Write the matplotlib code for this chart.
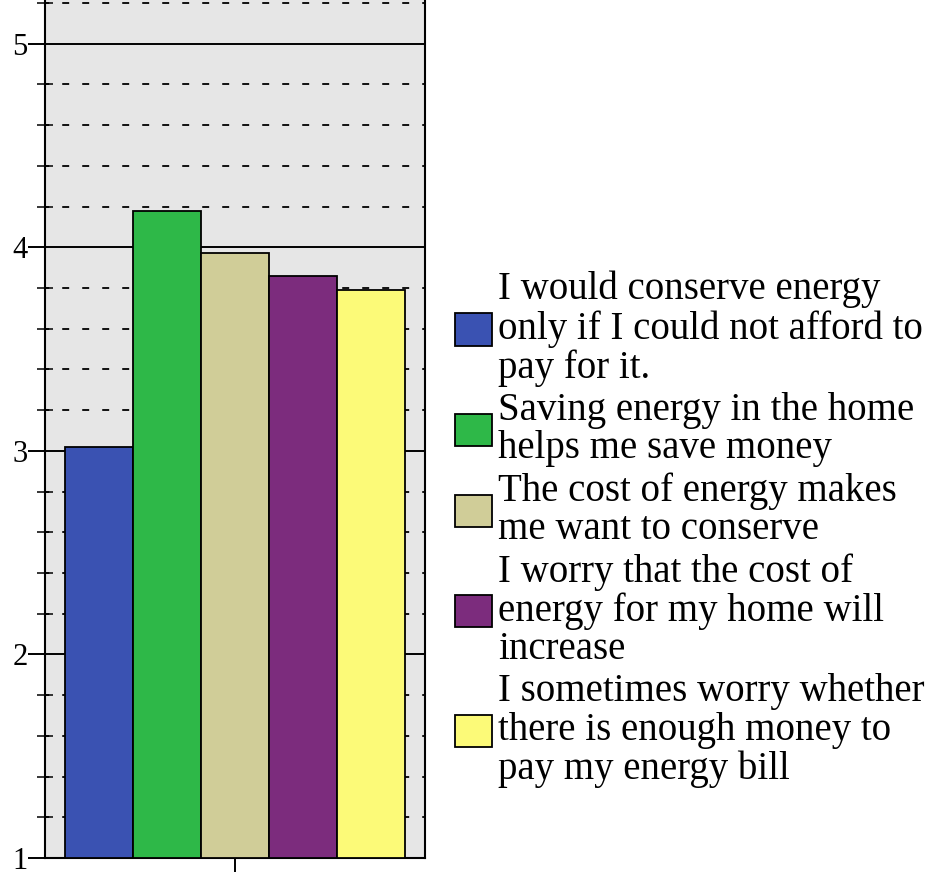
import matplotlib.pyplot as plt
from matplotlib.patches import Patch
from matplotlib.ticker import MultipleLocator

plt.switch_backend('agg')
plt.rcParams['font.family'] = ['Liberation Serif', 'DejaVu Serif']
plt.rcParams['lines.scale_dashes'] = False

# survey items (legend order) and mean scores
labels = [
    'I would conserve energy\nonly if I could not afford to\npay for it.',
    'Saving energy in the home\nhelps me save money',
    'The cost of energy makes\nme want to conserve',
    'I worry that the cost of\nenergy for my home will\nincrease',
    'I sometimes worry whether\nthere is enough money to\npay my energy bill',
]
means = [3.02, 4.18, 3.97, 3.86, 3.79]
colors = ['#3A52B2', '#2EB848', '#D0CD98', '#7C2C7D', '#FCFA78']
y_ticks = [1, 2, 3, 4, 5]

fig = plt.figure(figsize=(9.41, 8.72), dpi=100)
ax = fig.add_axes([45 / 941, 1 - 858 / 872, 380 / 941, 858 / 872])
ax.set_facecolor('#e6e6e6')

pos = list(range(len(means)))
ax.bar(pos, [m - 1 for m in means], bottom=1, width=1.0, color=colors,
       edgecolor='black', linewidth=1.3, zorder=3)

ax.set_xlim(-0.5 - 0.294, len(means) - 0.5 + 0.294)
ax.set_ylim(1, 5.215)

# grid: solid at integers, dashed at 0.2 steps
ax.yaxis.set_major_locator(MultipleLocator(1))
ax.yaxis.set_minor_locator(MultipleLocator(0.2))
ax.set_yticks(y_ticks)
ax.set_yticklabels([str(t) for t in y_ticks], fontsize=22)
ax.grid(axis='y', which='major', color='black', linewidth=1.4, zorder=1)
ax.grid(axis='y', which='minor', color='black', linewidth=1.3,
        linestyle=(2, (5, 9.4)), zorder=1)
ax.set_axisbelow(True)

ax.tick_params(axis='y', which='major', direction='out', length=12.5,
               width=1.4, pad=0, right=False)
ax.tick_params(axis='y', which='minor', direction='inout', length=11.5,
               width=1.1, right=False)
ax.set_xticks([2])
ax.set_xticklabels([''])
ax.tick_params(axis='x', direction='out', length=10, width=1.4)

ax.spines['top'].set_visible(False)
for s in ['left', 'right', 'bottom']:
    ax.spines[s].set_linewidth(1.5)

handles = [Patch(facecolor=c, edgecolor='black', linewidth=1.3) for c in colors]
leg = fig.legend(handles, labels, loc='upper left',
                 bbox_to_anchor=(455 / 941, 1 - 271 / 872),
                 frameon=False, fontsize=28, borderpad=0, borderaxespad=0,
                 handlelength=0.95, handleheight=0.9, handletextpad=0.15,
                 labelspacing=0.12)
for t in leg.get_texts():
    t.set_linespacing(1.06)

fig.savefig('out.png', dpi=100)
